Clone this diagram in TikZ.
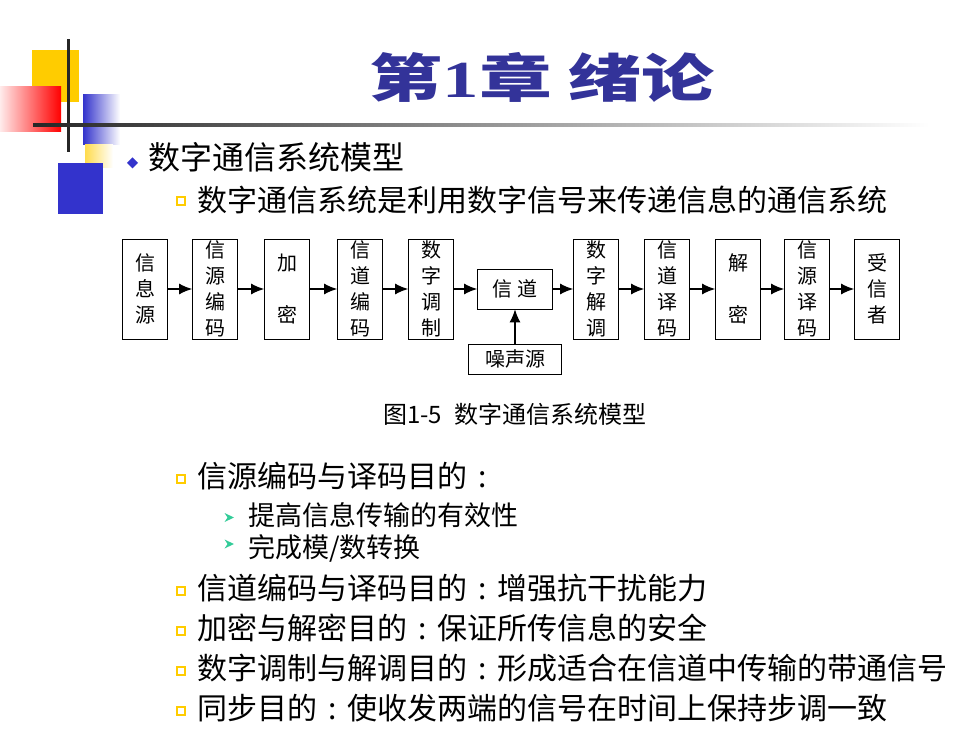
\documentclass[tikz,border=0pt]{standalone}
\usepackage{fontspec}
\setmainfont{Noto Sans CJK SC}
\newfontfamily\numfont{Liberation Serif}
\usetikzlibrary{arrows.meta, positioning}

\definecolor{titleblue}{RGB}{51,51,153}
\definecolor{decoblue}{RGB}{51,51,204}
\definecolor{decoyellow}{RGB}{255,204,0}
\definecolor{decored}{RGB}{255,0,0}
\definecolor{arrowgreen}{RGB}{51,204,153}

\newcommand{\fcolon}{\makebox[1em]{:}}

\tikzset{
  blk/.style={draw, line width=0.8pt, minimum width=45pt, minimum height=100pt,
    inner sep=0pt, align=center, font=\fontsize{20}{26}\selectfont},
  sig/.style={-{Latex[length=13pt,width=11pt]}, line width=1.2pt},
  txtline/.style={anchor=west, inner sep=0pt, font=\fontsize{30}{36}\selectfont},
  subline/.style={anchor=west, inner sep=0pt, font=\fontsize{27}{32}\selectfont}
}

\begin{document}
\begin{tikzpicture}[x=1pt, y=-1pt]
  \useasboundingbox (0,0) rectangle (980,735);
  \fill[white] (0,0) rectangle (980,735);

  % corner decoration
  \fill[decoyellow] (32,50) rectangle (79,102);
  \shade[left color=decored!8, right color=decored] (0,87) rectangle (61,132);
  \shade[left color=decoblue, right color=white] (83,95) rectangle (120,145);
  \shade[left color=decoyellow!70, right color=white] (85,145) rectangle (113,168);
  \fill[decoblue] (58,163) rectangle (103,214);
  \fill[black!85] (66.5,39) rectangle (69.5,152);
  \shade[left color=black!85, middle color=black!45, right color=white] (33,123.5) rectangle (930,126.5);

  \node[font=\fontsize{52}{60}\selectfont\bfseries, text=titleblue, xscale=1.4] (title) at (542,77) {第{\numfont 1}章 绪论};

  % bullets
  \fill[decoblue] (132.5,157.5) -- (138,163) -- (132.5,168.5) -- (127,163) -- cycle;
  \foreach \y in {201.5,479,591,631,671,711}
    \draw[decoyellow, line width=2pt] (177,\y-4) rectangle (185,\y+4);
  \foreach \y in {517.5,544}
    \fill[arrowgreen] (224.5,\y-4.5) -- (234,\y) -- (224.5,\y+4.5) -- (227.5,\y) -- cycle;

  \node[anchor=west, inner sep=0pt, font=\fontsize{32}{38}\selectfont] (head) at (148,157.5) {数字通信系统模型};
  \node[txtline] (intro) at (197,200) {数字通信系统是利用数字信号来传递信息的通信系统};

  % block diagram
  \node[blk] (src) at (145,289) {信\\息\\源};
  \node[blk] (senc) at (215,289) {信\\源\\编\\码};
  \node[blk] (enc) at (287,289) {加\\[26pt]密};
  \node[blk] (cenc) at (360,289) {信\\道\\编\\码};
  \node[blk] (mod) at (431,289) {数\\字\\调\\制};
  \node[blk, minimum width=75pt, minimum height=40pt] (chan) at (515,289) {信 道};
  \node[blk, minimum width=93pt, minimum height=30pt] (noise) at (515,359) {噪声源};
  \node[blk] (demod) at (596,289) {数\\字\\解\\调};
  \node[blk] (cdec) at (667,289) {信\\道\\译\\码};
  \node[blk] (dec) at (738,289) {解\\[26pt]密};
  \node[blk] (sdec) at (807,289) {信\\源\\译\\码};
  \node[blk] (sink) at (877,289) {受\\信\\者};

  \foreach \a/\b in {src/senc, senc/enc, enc/cenc, cenc/mod, mod/chan, chan/demod, demod/cdec, cdec/dec, dec/sdec, sdec/sink}
    \draw[sig] (\a) -- (\b);
  \draw[sig] (noise) -- (chan);

  \node[anchor=west, inner sep=0pt, font=\fontsize{24}{28}\selectfont] (cap) at (383,414) {图1-5\hspace{12pt}数字通信系统模型};

  % aims
  \node[txtline] (aim1) at (197,476) {信源编码与译码目的\fcolon};
  \node[subline] (aim1a) at (248,515) {提高信息传输的有效性};
  \node[subline] (aim1b) at (248,548) {完成模/数转换};
  \node[txtline] (aim2) at (197,588) {信道编码与译码目的\fcolon 增强抗干扰能力};
  \node[txtline] (aim3) at (197,628) {加密与解密目的\fcolon 保证所传信息的安全};
  \node[txtline] (aim4) at (197,668) {数字调制与解调目的\fcolon 形成适合在信道中传输的带通信号};
  \node[txtline] (aim5) at (197,708) {同步目的\fcolon 使收发两端的信号在时间上保持步调一致};
\end{tikzpicture}
\end{document}
